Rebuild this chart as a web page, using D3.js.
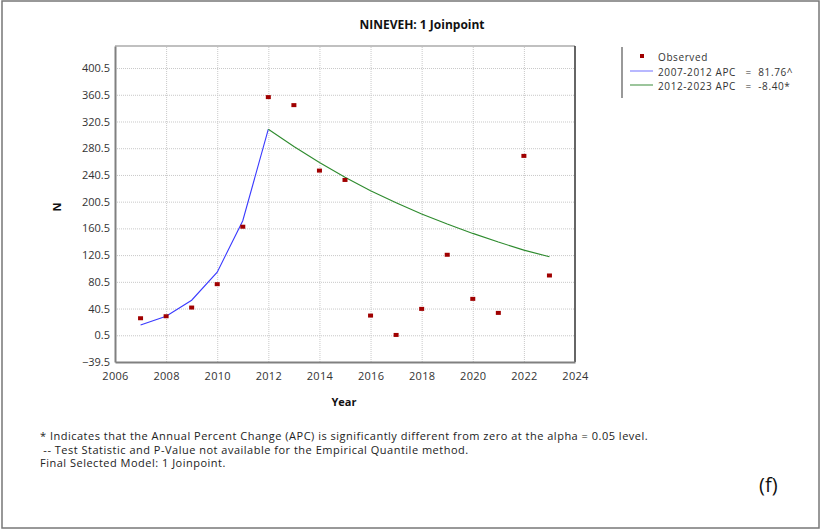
<!DOCTYPE html>
<html>
<head>
<meta charset="utf-8">
<script src="https://cdn.jsdelivr.net/npm/d3@7"></script>
<style>
  body { margin: 0; background: #fff; }
  text { font-family: "Open Sans", "Noto Sans", sans-serif; white-space: pre; }
</style>
</head>
<body>
<div id="graph"></div>
<script>
// Observed values per year
var obs_years = [2007, 2008, 2009, 2010, 2011, 2012, 2013, 2014, 2015, 2016, 2017, 2018, 2019, 2020, 2021, 2022, 2023];
var obs_values = [26, 29, 42, 77, 163, 357, 345, 247, 233, 30, 1, 40, 121, 55, 34, 269, 90];

// Fitted segments
var seg1_years = [2007, 2008, 2009, 2010, 2011, 2012];
var seg1_values = [16, 29, 53, 95, 172, 309];
var seg2_years = [2012, 2013, 2014, 2015, 2016, 2017, 2018, 2019, 2020, 2021, 2022, 2023];
var seg2_values = [309, 283, 259, 237, 217, 199, 182, 167, 153, 140, 128, 118];

var x_ticks = [2006, 2008, 2010, 2012, 2014, 2016, 2018, 2020, 2022, 2024];
var y_ticks = [-39.5, 0.5, 40.5, 80.5, 120.5, 160.5, 200.5, 240.5, 280.5, 320.5, 360.5, 400.5];

var legend_labels = ["Observed", "2007-2012 APC   =  81.76^", "2012-2023 APC   =  -8.40*"];
var notes = [
	"* Indicates that the Annual Percent Change (APC) is significantly different from zero at the alpha = 0.05 level.",
	" -- Test Statistic and P-Value not available for the Empirical Quantile method.",
	"Final Selected Model: 1 Joinpoint."
];

var W = 821, H = 530;
var margin = {top: 46, left: 115};
var width = 575 - margin.left;
var height = 362 - margin.top;

var svg = d3.select("#graph").append("svg")
	.attr("width", W)
	.attr("height", H);

// outer frame
svg.append("rect")
	.attr("x", 2).attr("y", 1)
	.attr("width", 817).attr("height", 527)
	.attr("fill", "none")
	.attr("stroke", "#777")
	.attr("stroke-width", 1.5);

var g = svg.append("g")
	.attr("transform", "translate(" + margin.left + "," + margin.top + ")");

var scale_x = d3.scaleLinear().domain([2006, 2024]).range([0, width]);
var scale_y = d3.scaleLinear().domain([-39.5, 433.5]).range([height, 0]);

// grid
g.append("g")
	.attr("transform", "translate(0," + height + ")")
	.call(d3.axisBottom(scale_x).tickValues(x_ticks.slice(1, -1)).tickSize(-height).tickFormat(""))
	.call(function(s) {
		s.select(".domain").remove();
		s.selectAll("line").attr("stroke", "#c8c8c8").attr("stroke-dasharray", "1,1");
	});
g.append("g")
	.call(d3.axisLeft(scale_y).tickValues(y_ticks.slice(1)).tickSize(-width).tickFormat(""))
	.call(function(s) {
		s.select(".domain").remove();
		s.selectAll("line").attr("stroke", "#c8c8c8").attr("stroke-dasharray", "1,1");
	});

// frame lines
g.append("line").attr("x1", 0).attr("x2", width).attr("y1", 0).attr("y2", 0)
	.attr("stroke", "#c0c0c0").attr("stroke-width", 2);
g.append("line").attr("x1", width).attr("x2", width).attr("y1", 0).attr("y2", height)
	.attr("stroke", "#333").attr("stroke-width", 1.5);

// axes
var x_axis = g.append("g")
	.attr("transform", "translate(0," + height + ")")
	.call(d3.axisBottom(scale_x).tickValues(x_ticks).tickSize(0).tickPadding(10).tickFormat(d3.format("d")));
x_axis.select(".domain").attr("stroke", "#808080").attr("stroke-width", 2);
x_axis.selectAll("text").attr("fill", "#333").style("font-size", "11px").style("letter-spacing", "0.3px");

var y_axis = g.append("g")
	.call(d3.axisLeft(scale_y).tickValues(y_ticks).tickSize(0).tickPadding(5).tickFormat(d3.format(".1f")));
y_axis.select(".domain").attr("stroke", "#808080").attr("stroke-width", 2);
y_axis.selectAll("text").attr("fill", "#333").style("font-size", "11px");

// fitted lines
var line = d3.line()
	.x(function(d) { return scale_x(d[0]); })
	.y(function(d) { return scale_y(d[1]); });

g.append("path")
	.attr("fill", "none")
	.attr("stroke", "#3a3aff")
	.attr("stroke-width", 1.1)
	.attr("d", line(d3.zip(seg1_years, seg1_values)));

g.append("path")
	.attr("fill", "none")
	.attr("stroke", "#2e8b2e")
	.attr("stroke-width", 1.1)
	.attr("d", line(d3.zip(seg2_years, seg2_values)));

// observed points
g.selectAll("rect.obs")
	.data(d3.zip(obs_years, obs_values))
	.enter()
	.append("rect")
	.attr("class", "obs")
	.attr("x", function(d) { return scale_x(d[0]) - 2.5; })
	.attr("y", function(d) { return scale_y(d[1]) - 2; })
	.attr("width", 5)
	.attr("height", 4)
	.attr("fill", "#a00000");

// title + axis labels
svg.append("text")
	.attr("x", 422).attr("y", 29)
	.attr("text-anchor", "middle")
	.style("font-size", "12px").style("font-weight", "bold")
	.attr("fill", "#111")
	.text("NINEVEH: 1 Joinpoint");

svg.append("text")
	.attr("x", 344).attr("y", 406)
	.attr("text-anchor", "middle")
	.style("font-size", "11px").style("font-weight", "bold")
	.attr("fill", "#111")
	.text("Year");

svg.append("text")
	.attr("transform", "translate(61,207) rotate(-90)")
	.attr("text-anchor", "middle")
	.style("font-size", "11px").style("font-weight", "bold")
	.attr("fill", "#111")
	.text("N");

// legend
svg.append("line")
	.attr("x1", 622).attr("x2", 622).attr("y1", 47).attr("y2", 98)
	.attr("stroke", "#999").attr("stroke-width", 2);

var legend = svg.append("g");
legend.append("rect")
	.attr("x", 640).attr("y", 54).attr("width", 4).attr("height", 4)
	.attr("fill", "#a00000");
legend.append("line")
	.attr("x1", 630).attr("x2", 653).attr("y1", 71).attr("y2", 71)
	.attr("stroke", "#8888ff").attr("stroke-width", 1.2);
legend.append("line")
	.attr("x1", 630).attr("x2", 653).attr("y1", 85).attr("y2", 85)
	.attr("stroke", "#5a9e5a").attr("stroke-width", 1.2);
legend.selectAll("text")
	.data(legend_labels)
	.enter()
	.append("text")
	.attr("x", 658)
	.attr("y", function(d, i) { return 61 + i * 14.5; })
	.style("font-size", "10px")
	.style("letter-spacing", "0.6px")
	.attr("fill", "#333")
	.text(function(d) { return d; });

// footnotes
svg.selectAll("text.note")
	.data(notes)
	.enter()
	.append("text")
	.attr("class", "note")
	.attr("x", 40)
	.attr("y", function(d, i) { return 440 + i * 13.5; })
	.style("font-size", "11px")
	.style("letter-spacing", "0.5px")
	.attr("fill", "#222")
	.text(function(d) { return d; });

svg.append("text")
	.attr("x", 759).attr("y", 492)
	.style("font-size", "20px")
	.attr("fill", "#111")
	.text("(f)");
</script>
</body>
</html>
